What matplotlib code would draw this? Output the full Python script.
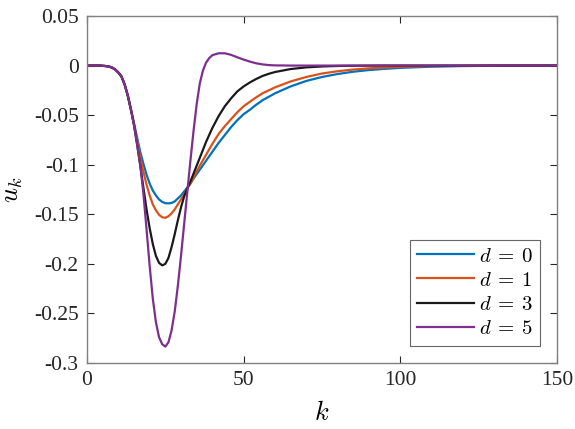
import numpy as np
import matplotlib
matplotlib.use("Agg")
import matplotlib.pyplot as plt

# sample index k (shared grid)
k = ([0, 2, 4] + list(range(6, 41)) + list(range(42, 61, 2))
     + list(range(65, 101, 5)) + list(range(110, 151, 10)))

# common start (k = 0..14), identical for all d
start = [0, 0, 0, -0.0005, -0.001, -0.002, -0.004, -0.007, -0.011, -0.019, -0.03, -0.044]

u_d0 = start + [
    -0.058, -0.073, -0.087, -0.099, -0.11, -0.119, -0.126, -0.131, -0.135, -0.1375,
    -0.1388, -0.139, -0.1385, -0.137, -0.134, -0.131, -0.127, -0.123, -0.119, -0.114,
    -0.1095, -0.105, -0.1005, -0.096, -0.0915, -0.087,
    -0.078, -0.07, -0.062, -0.055, -0.049, -0.0445, -0.0395, -0.035, -0.0315, -0.028,
    -0.021, -0.0155, -0.0115, -0.0085, -0.0062, -0.0045, -0.0033, -0.0023,
    -0.0011, -0.0005, -0.0002, -0.0001, 0]

u_d1 = start + [
    -0.059, -0.076, -0.092, -0.107, -0.12, -0.131, -0.14, -0.146, -0.1505, -0.153,
    -0.1535, -0.152, -0.149, -0.145, -0.14, -0.135, -0.13, -0.124, -0.119, -0.113,
    -0.107, -0.101, -0.0955, -0.09, -0.0845, -0.079,
    -0.069, -0.061, -0.054, -0.047, -0.041, -0.0365, -0.032, -0.028, -0.025, -0.022,
    -0.016, -0.0115, -0.008, -0.0057, -0.004, -0.0028, -0.002, -0.0013,
    -0.0005, -0.0002, -0.0001, 0, 0]

u_d3 = start + [
    -0.06, -0.08, -0.101, -0.123, -0.145, -0.164, -0.18, -0.192, -0.199, -0.2015,
    -0.2, -0.194, -0.183, -0.17, -0.156, -0.143, -0.132, -0.124, -0.117, -0.109,
    -0.101, -0.093, -0.085, -0.077, -0.07, -0.063,
    -0.051, -0.041, -0.033, -0.026, -0.021, -0.017, -0.0135, -0.0105, -0.0083, -0.0065,
    -0.0035, -0.0018, -0.0009, -0.0004, -0.0002, -0.0001, 0, 0,
    0, 0, 0, 0, 0]

u_d5 = start + [
    -0.06, -0.079, -0.1, -0.129, -0.165, -0.202, -0.235, -0.259, -0.274, -0.281,
    -0.2835, -0.279, -0.267, -0.248, -0.222, -0.192, -0.16, -0.128, -0.096, -0.066,
    -0.039, -0.018, -0.005, 0.003, 0.0075, 0.0105,
    0.0124, 0.0124, 0.0108, 0.0083, 0.006, 0.004, 0.0023, 0.0012, 0.0005, 0.0002,
    0, 0, 0, 0, 0, 0, 0, 0,
    0, 0, 0, 0, 0]

series = [u_d0, u_d1, u_d3, u_d5]
labels = [r"$d\:=\:0$", r"$d\:=\:1$", r"$d\:=\:3$", r"$d\:=\:5$"]
colors = ["#0072BD", "#D95319", "#1a1a1a", "#7E2F8E"]

xticks = [0, 50, 100, 150]
yticks = [0.05, 0, -0.05, -0.1, -0.15, -0.2, -0.25, -0.3]
ytick_labels = ["0.05", "0", "-0.05", "-0.1", "-0.15", "-0.2", "-0.25", "-0.3"]

plt.rcParams["font.family"] = ["Liberation Serif", "DejaVu Serif"]
plt.rcParams["mathtext.fontset"] = "cm"

fig = plt.figure(figsize=(5.75, 4.29), dpi=100)
ax = fig.add_axes([0.1513, 0.1538, 0.8174, 0.8089])

for u, lab, c in zip(series, labels, colors):
    ax.plot(k, u, color=c, lw=1.6, label=lab)

ax.set_xlim(0, 150)
ax.set_ylim(-0.3, 0.05)
ax.set_xticks(xticks)
ax.set_xticklabels([str(t) for t in xticks])
ax.set_yticks(yticks)
ax.set_yticklabels(ytick_labels)
ax.tick_params(direction="in", top=True, right=True, length=5, width=0.8,
               labelsize=15.5, colors="#262626", pad=6)
for s in ax.spines.values():
    s.set_color("#808080")
    s.set_linewidth(1.0)

ax.set_xlabel("$k$", fontsize=19, labelpad=8)
ax.set_ylabel("$u_k$", fontsize=19, labelpad=6)

leg = ax.legend(loc="lower right", fontsize=15, frameon=True, fancybox=False,
                edgecolor="#404040", handlelength=2.7, handletextpad=0.25,
                borderpad=0.35, labelspacing=0.22, borderaxespad=0.8)
leg.get_frame().set_linewidth(0.8)

fig.savefig("out.png", dpi=100)
